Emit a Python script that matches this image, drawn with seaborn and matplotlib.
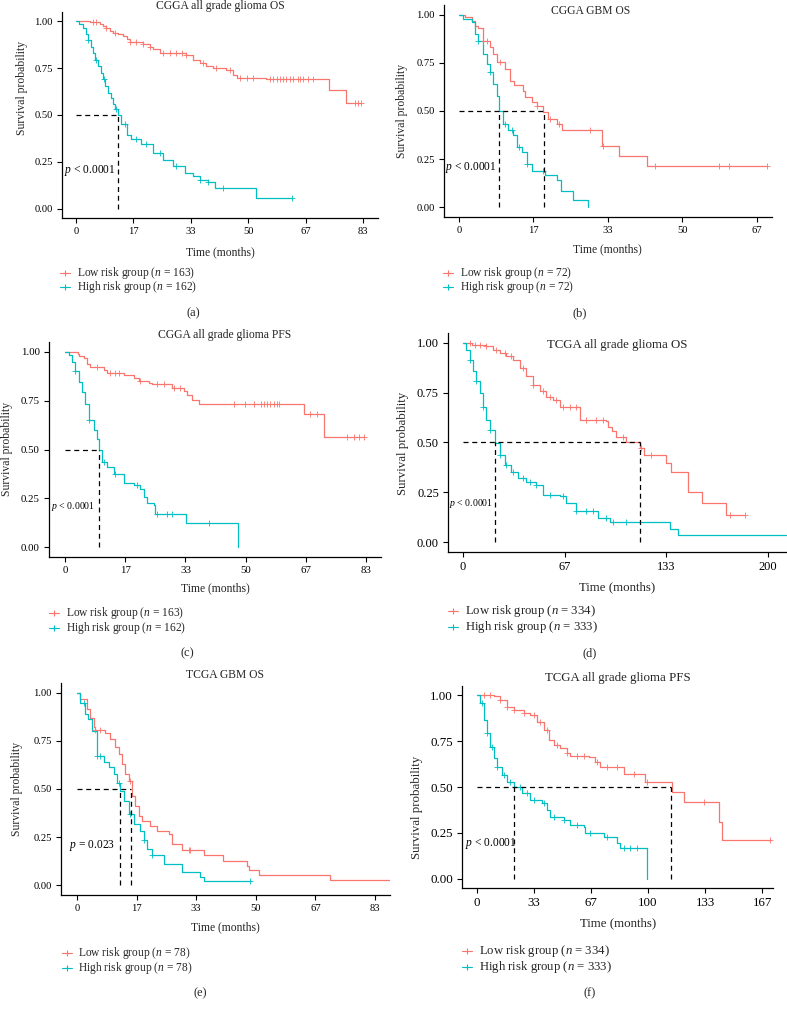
import numpy as np
import pandas as pd
import matplotlib
matplotlib.use("Agg")
import matplotlib.pyplot as plt
from matplotlib.lines import Line2D
import seaborn as sns

LOW_COLOR = "#F8766D"
HIGH_COLOR = "#00BFC4"

# ---- data (months, survival probability) ----
titles = ["CGGA all grade glioma OS", "CGGA GBM OS", "CGGA all grade glioma PFS",
          "TCGA all grade glioma OS", "TCGA GBM OS", "TCGA all grade glioma PFS"]
captions = ["(a)", "(b)", "(c)", "(d)", "(e)", "(f)"]
p_values = ["< 0.0001", "< 0.0001", "< 0.0001", "< 0.0001", "= 0.023", "< 0.0001"]
n_low = [163, 72, 163, 334, 78, 334]
n_high = [162, 72, 162, 333, 78, 333]

xticks_a = ["0", "17", "33", "50", "67", "83"]
xticks_b = ["0", "17", "33", "50", "67"]
xticks_c = ["0", "17", "33", "50", "67", "83"]
xticks_d = ["0", "67", "133", "200"]
xticks_e = ["0", "17", "33", "50", "67", "83"]
xticks_f = ["0", "33", "67", "100", "133", "167"]
yticks = [0.0, 0.25, 0.5, 0.75, 1.0]

# (a) CGGA all grade OS
a_low_t = [0, 4.0, 6.8, 7.8, 8.8, 9.7, 10.7, 12.1, 13.6, 14.6, 15.5, 19.4, 21.3, 22.3, 24.2,
           31.9, 33.8, 35.8, 37.7, 39.6, 43.5, 45.4, 46.4, 55.0, 73.2, 78.0, 82.5]
a_low_s = [1.0, 0.994, 0.988, 0.975, 0.962, 0.950, 0.940, 0.932, 0.922, 0.905, 0.890, 0.877,
           0.865, 0.852, 0.832, 0.820, 0.792, 0.777, 0.762, 0.752, 0.738, 0.716, 0.700, 0.692,
           0.635, 0.562, 0.562]
a_low_cens = [4.9, 5.9, 8.8, 11.2, 15.5, 17.4, 19.4, 21.3, 25.2, 27.1, 29.0, 30.5, 31.9, 36.7,
              40.6, 44.4, 47.3, 49.3, 51.2, 56.0, 57.0, 58.0, 58.9, 59.9, 60.8, 61.8, 62.8,
              64.2, 64.7, 65.6, 67.1, 68.5, 80.6, 81.6, 82.5]
a_high_t = [0, 1.0, 2.0, 2.8, 3.5, 4.2, 4.9, 5.6, 6.4, 7.1, 7.8, 8.5, 9.3, 10.0, 10.7, 11.4,
            12.1, 13.1, 14.6, 16.0, 18.9, 22.3, 25.2, 28.0, 31.4, 33.8, 35.8, 38.2, 40.1, 52.0, 62.3]
a_high_s = [1.0, 0.985, 0.965, 0.935, 0.90, 0.865, 0.83, 0.795, 0.76, 0.725, 0.69, 0.655, 0.62,
            0.59, 0.56, 0.53, 0.50, 0.45, 0.395, 0.37, 0.347, 0.297, 0.26, 0.226, 0.19, 0.173,
            0.155, 0.14, 0.11, 0.055, 0.055]
a_high_cens = [3.5, 5.9, 8.0, 11.7, 14.1, 17.4, 20.3, 24.2, 29.0, 35.8, 38.2, 42.5, 62.3]
a_medians = [12.1]

# (b) CGGA GBM OS
b_low_t = [0, 1.35, 2.85, 3.6, 4.35, 5.5, 7.0, 7.7, 8.5, 10.4, 11.5, 12.4, 14.5, 14.9, 16.4,
           17.5, 19.0, 20.1, 22.0, 23.1, 32.1, 35.9, 42.2, 69.2]
b_low_s = [1.0, 0.986, 0.965, 0.943, 0.93, 0.865, 0.83, 0.796, 0.756, 0.718, 0.658, 0.637,
           0.606, 0.572, 0.546, 0.528, 0.494, 0.46, 0.434, 0.402, 0.316, 0.268, 0.216, 0.216]
b_low_cens = [5.5, 6.2, 9.2, 17.5, 20.5, 22.4, 29.5, 32.5, 44.1, 58.4, 60.8, 69.2]
b_high_t = [0, 1.0, 2.85, 3.6, 4.35, 5.5, 6.2, 7.0, 7.7, 8.5, 9.0, 10.0, 11.1, 12.1, 13.0,
            14.1, 15.2, 16.4, 19.4, 22.0, 22.9, 25.7, 29.1]
b_high_s = [1.0, 0.978, 0.96, 0.90, 0.865, 0.796, 0.744, 0.70, 0.64, 0.58, 0.50, 0.434, 0.40,
            0.373, 0.313, 0.287, 0.226, 0.19, 0.17, 0.14, 0.085, 0.04, 0.0]
b_high_cens = [4.35, 7.0, 10.4, 11.9, 13.4, 15.2, 19.0]
b_medians = [9.0, 19.1]

# (c) CGGA all grade PFS
c_low_t = [0, 3.5, 3.8, 5.1, 6.1, 7.0, 10.7, 11.6, 16.2, 18.9, 20.3, 23.1, 24.0, 29.5, 32.7,
           33.6, 35.0, 36.9, 65.8, 71.3, 82.4]
c_low_s = [1.0, 0.99, 0.978, 0.966, 0.94, 0.92, 0.906, 0.892, 0.88, 0.864, 0.85, 0.84, 0.833,
           0.817, 0.80, 0.778, 0.753, 0.735, 0.68, 0.565, 0.565]
c_low_cens = [8.8, 12.5, 13.9, 14.8, 20.8, 25.4, 27.2, 30.0, 31.8, 46.5, 49.7, 52.0, 53.9, 54.8,
              55.7, 56.6, 57.5, 58.5, 58.9, 67.6, 69.5, 77.8, 79.6, 81.0, 82.4]
c_high_t = [0, 1.0, 1.9, 2.8, 3.8, 4.7, 5.6, 6.5, 7.9, 8.8, 9.5, 10.2, 11.6, 13.4, 16.4, 18.9,
            20.8, 21.7, 22.6, 24.4, 24.9, 33.4, 47.6]
c_high_s = [1.0, 0.983, 0.95, 0.90, 0.846, 0.795, 0.735, 0.65, 0.60, 0.553, 0.497, 0.437, 0.41,
            0.374, 0.33, 0.317, 0.30, 0.258, 0.224, 0.215, 0.169, 0.126, 0.0]
c_high_cens = [2.8, 6.5, 10.7, 13.9, 19.9, 25.4, 28.1, 29.5, 39.6]
c_medians = [9.3]

# (d) TCGA all grade OS
d_low_t = [0, 6.0, 15.3, 19.7, 24.0, 28.4, 32.8, 37.2, 41.5, 45.9, 50.3, 54.6, 59.0, 63.4,
           76.5, 94.0, 95.0, 97.5, 100.5, 107.0, 115.8, 119.0, 133.0, 136.6, 147.5, 156.7,
           172.7, 184.7]
d_low_s = [1.0, 0.99, 0.987, 0.966, 0.95, 0.933, 0.916, 0.874, 0.832, 0.79, 0.757, 0.73, 0.715,
           0.68, 0.614, 0.606, 0.58, 0.56, 0.53, 0.505, 0.471, 0.438, 0.396, 0.354, 0.253,
           0.198, 0.136, 0.136]
d_low_cens = [4.4, 7.7, 10.9, 15.3, 21.9, 27.3, 31.7, 39.3, 45.9, 52.5, 56.8, 61.2, 65.6, 69.9,
              74.3, 80.9, 87.4, 91.8, 104.9, 116.9, 123.5, 174.8, 184.7]
d_high_t = [0, 2.2, 4.4, 6.6, 8.7, 10.9, 13.1, 15.3, 17.5, 20.8, 24.0, 27.3, 31.7, 36.1, 41.5,
            48.1, 52.5, 63.4, 67.8, 74.3, 88.5, 96.2, 135.5, 141.0, 212.0]
d_high_s = [1.0, 0.966, 0.916, 0.857, 0.807, 0.748, 0.68, 0.614, 0.564, 0.497, 0.438, 0.388,
            0.354, 0.32, 0.30, 0.287, 0.237, 0.232, 0.195, 0.158, 0.119, 0.102, 0.065, 0.035,
            0.035]
d_high_cens = [4.4, 8.7, 13.1, 17.5, 24.0, 28.4, 32.8, 39.3, 43.7, 48.1, 56.8, 65.6, 74.3, 80.9,
               85.2, 94.0, 98.4, 107.1]
d_medians = [21.2, 115.8]

# (e) TCGA GBM OS
e_low_t = [0, 0.9, 2.8, 3.7, 4.6, 5.1, 7.9, 9.3, 10.7, 11.6, 12.5, 13.5, 14.4, 15.3, 16.2,
           17.2, 18.1, 20.4, 22.3, 25.5, 26.4, 29.2, 35.3, 40.8, 47.3, 48.0, 50.8, 70.5, 87.2]
e_low_s = [1.0, 0.966, 0.914, 0.87, 0.82, 0.805, 0.793, 0.759, 0.716, 0.681, 0.629, 0.578,
           0.54, 0.466, 0.414, 0.362, 0.336, 0.31, 0.284, 0.267, 0.216, 0.184, 0.155, 0.129,
           0.103, 0.078, 0.052, 0.026, 0.026]
e_low_cens = [5.1, 6.5, 14.8, 31.1, 31.5]
e_high_t = [0, 0.9, 2.3, 3.2, 4.2, 5.6, 7.4, 8.8, 10.2, 11.2, 12.0, 13.0, 14.4, 15.8, 17.6,
            18.6, 19.5, 20.9, 24.1, 29.2, 34.3, 35.3, 48.2]
e_high_s = [1.0, 0.948, 0.888, 0.862, 0.80, 0.672, 0.638, 0.612, 0.578, 0.53, 0.49, 0.44, 0.37,
            0.316, 0.284, 0.233, 0.19, 0.155, 0.112, 0.069, 0.043, 0.021, 0.021]
e_high_cens = [1.9, 5.6, 6.5, 11.6, 14.8, 18.6, 20.9, 48.2]
e_medians = [12.0, 15.1]

# (f) TCGA all grade PFS
f_low_t = [0, 9.8, 13.7, 17.6, 21.5, 27.3, 31.3, 35.2, 39.1, 42.0, 44.9, 48.8, 52.7, 54.7,
           65.4, 69.3, 72.3, 85.9, 98.6, 114.3, 121.0, 141.6, 143.6, 171.9]
f_low_s = [1.0, 0.995, 0.973, 0.937, 0.918, 0.904, 0.891, 0.855, 0.81, 0.755, 0.728, 0.71,
           0.687, 0.668, 0.661, 0.638, 0.607, 0.571, 0.529, 0.475, 0.42, 0.312, 0.21, 0.21]
f_low_cens = [3.9, 7.8, 13.7, 17.6, 21.5, 27.3, 33.2, 37.1, 41.0, 46.9, 52.7, 58.6, 62.5, 70.3,
              76.2, 82.0, 91.8, 99.6, 132.8, 171.9]
f_high_t = [0, 2.0, 3.9, 5.9, 7.8, 9.8, 11.7, 14.6, 17.6, 21.5, 26.4, 31.3, 38.1, 41.0, 43.0,
            50.8, 54.7, 62.5, 63.5, 74.2, 82.0, 84.0, 99.6]
f_high_s = [1.0, 0.955, 0.864, 0.792, 0.72, 0.656, 0.61, 0.565, 0.529, 0.498, 0.466, 0.43,
            0.411, 0.375, 0.339, 0.32, 0.293, 0.284, 0.248, 0.226, 0.197, 0.167, 0.0]
f_high_cens = [2.9, 5.9, 8.8, 11.7, 15.6, 19.5, 25.4, 29.3, 33.2, 39.1, 44.9, 50.8, 58.6, 66.4,
               76.2, 85.9, 89.8, 93.8]
f_medians = [21.5, 113.7]

W, H = 787, 1011


def px_axes(fig, left, top, right, bottom):
    return fig.add_axes([left / W, 1 - bottom / H, (right - left) / W, (bottom - top) / H])


def fx(x):
    return x / W


def fy(y):
    return 1 - y / H


def step_value(t, s, times):
    t = np.asarray(t)
    s = np.asarray(s)
    idx = np.searchsorted(t, times, side="right") - 1
    return s[np.clip(idx, 0, len(s) - 1)]


def draw_group(ax, t, s, cens, color):
    df = pd.DataFrame({"time": t, "surv": s})
    sns.lineplot(data=df, x="time", y="surv", drawstyle="steps-post", estimator=None,
                 sort=False, color=color, linewidth=0.9, ax=ax)
    cy = step_value(t, s, cens)
    sns.scatterplot(x=cens, y=cy, marker="+", s=14, color=color, linewidth=0.6, ax=ax,
                    zorder=3)


def main():
    sns.set_style("ticks")
    plt.rcParams["font.family"] = ["Liberation Serif", "DejaVu Serif"]
    plt.rcParams["mathtext.fontset"] = "custom"
    plt.rcParams["mathtext.it"] = "Liberation Serif:italic"
    plt.rcParams["mathtext.rm"] = "Liberation Serif"

    fig = plt.figure(figsize=(W / 100, H / 100), dpi=100)

    curves = [
        (a_low_t, a_low_s, a_low_cens, a_high_t, a_high_s, a_high_cens, a_medians, xticks_a),
        (b_low_t, b_low_s, b_low_cens, b_high_t, b_high_s, b_high_cens, b_medians, xticks_b),
        (c_low_t, c_low_s, c_low_cens, c_high_t, c_high_s, c_high_cens, c_medians, xticks_c),
        (d_low_t, d_low_s, d_low_cens, d_high_t, d_high_s, d_high_cens, d_medians, xticks_d),
        (e_low_t, e_low_s, e_low_cens, e_high_t, e_high_s, e_high_cens, e_medians, xticks_e),
        (f_low_t, f_low_s, f_low_cens, f_high_t, f_high_s, f_high_cens, f_medians, xticks_f),
    ]

    # layout in pixels: axes box, xlim, title, xlabel, ylabel, legend, caption, p-text, font sizes
    layout = [
        dict(box=(62, 12, 378, 218), xlim=(-4.05, 87.3), title=(220, 6), xlab=(220, 252),
             ylab=(22, 88), leg=(65, 77, 273, 287), cap=(193, 313), p=(-3.5, 0.205, 8.3),
             tick=7.6, fs=8.4, lfs=8.3),
        dict(box=(444, 5, 772, 217), xlim=(-3.37, 70.4), title=(591, 11), xlab=(607, 249),
             ylab=(402, 111), leg=(448, 460, 273, 287), cap=(580, 313), p=(-3.15, 0.209, 8.3),
             tick=7.6, fs=8.4, lfs=8.3),
        dict(box=(49, 342, 381, 557), xlim=(-4.41, 87.1), title=(225, 335), xlab=(215, 588),
             ylab=(7, 449), leg=(54, 66, 613, 628), cap=(187, 653), p=(-3.86, 0.206, 7.0),
             tick=7.8, fs=8.4, lfs=8.3),
        dict(box=(448, 333, 787, 552), xlim=(-9.8, 212.5), title=(617, 345), xlab=(617, 587),
             ylab=(403, 443), leg=(453, 465, 611, 627), cap=(590, 653), p=(-9.2, 0.195, 7.0),
             tick=8.9, fs=9.3, lfs=9.2),
        dict(box=(61, 683, 390, 895), xlim=(-4.46, 87.2), title=(225, 675), xlab=(225, 927),
             ylab=(17, 789), leg=(67, 78, 953, 968), cap=(200, 993), p=(-2.3, 0.207, 8.3),
             tick=7.6, fs=8.4, lfs=8.3),
        dict(box=(462, 686, 773, 888), xlim=(-8.8, 173.4), title=(618, 678), xlab=(618, 923),
             ylab=(417, 807), leg=(467, 479, 951, 967), cap=(590, 993), p=(-6.8, 0.194, 8.3),
             tick=9.3, fs=9.3, lfs=9.2),
    ]

    for i, (lt, ls, lc, ht, hs, hc, meds, xlabels) in enumerate(curves):
        lay = layout[i]
        ax = px_axes(fig, *lay["box"])
        draw_group(ax, lt, ls, lc, LOW_COLOR)
        draw_group(ax, ht, hs, hc, HIGH_COLOR)

        # median survival lines
        ax.plot([0, max(meds)], [0.5, 0.5], color="black", lw=0.9, ls=(0, (4, 3)), zorder=4)
        for m in meds:
            ax.plot([m, m], [0, 0.5], color="black", lw=0.9, ls=(0, (4, 3)), zorder=4)

        ax.set_xlim(*lay["xlim"])
        ax.set_ylim(-0.05, 1.05)
        xmax = float(xlabels[-1])
        ax.set_xticks(np.linspace(0, xmax, len(xlabels)))
        ax.set_xticklabels(xlabels)
        ax.set_yticks(yticks)
        ax.set_yticklabels([f"{v:.2f}" for v in yticks])
        ax.set_xlabel("")
        ax.set_ylabel("")
        ax.tick_params(direction="out", length=3.5, width=0.8, colors="black",
                       labelsize=lay["tick"], pad=3)
        sns.despine(ax=ax)
        for sp in ("left", "bottom"):
            ax.spines[sp].set_linewidth(0.9)
            ax.spines[sp].set_color("black")

        px, py, psize = lay["p"]
        ax.text(px, py, f"$p$ {p_values[i]}", fontsize=psize, ha="left", va="center",
                color="black")

        fs = lay["fs"]
        tx, ty = lay["title"]
        fig.text(fx(tx), fy(ty), titles[i], fontsize=fs, ha="center", va="center")
        lx, ly = lay["xlab"]
        fig.text(fx(lx), fy(ly), "Time (months)", fontsize=fs, ha="center", va="center")
        yx, yy = lay["ylab"]
        fig.text(fx(yx), fy(yy), "Survival probability", fontsize=fs, ha="center",
                 va="center", rotation=90)

        mx, tx0, r1, r2 = lay["leg"]
        rows = [(r1, LOW_COLOR, f"Low risk group ($n$ = {n_low[i]})"),
                (r2, HIGH_COLOR, f"High risk group ($n$ = {n_high[i]})")]
        for ry, col, lab in rows:
            fig.add_artist(Line2D([fx(mx - 5), fx(mx + 5)], [fy(ry), fy(ry)], color=col,
                                  lw=0.8, transform=fig.transFigure))
            fig.add_artist(Line2D([fx(mx)], [fy(ry)], color=col, marker="+", markersize=5,
                                  markeredgewidth=0.8, transform=fig.transFigure))
            fig.text(fx(tx0), fy(ry), lab, fontsize=lay["lfs"], ha="left", va="center")

        cx, cy = lay["cap"]
        fig.text(fx(cx), fy(cy), captions[i], fontsize=9, ha="center", va="center")

    fig.savefig("out.png", dpi=100, facecolor="white")


if __name__ == "__main__":
    main()
